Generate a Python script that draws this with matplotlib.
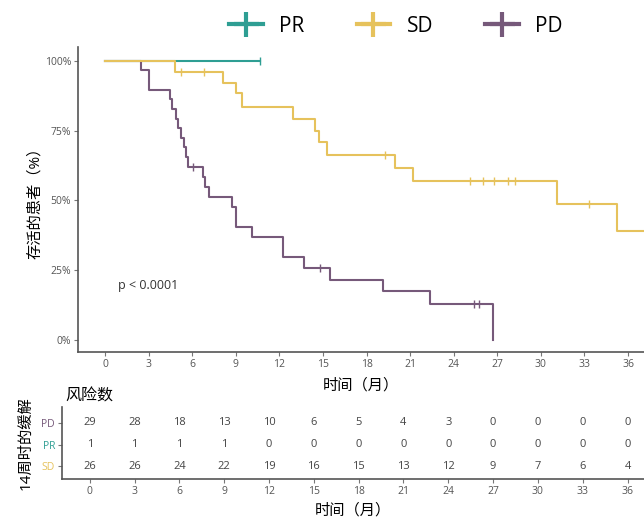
import matplotlib
matplotlib.use('Agg')
import matplotlib.pyplot as plt
from matplotlib.lines import Line2D
import numpy as np

plt.rcParams['font.family'] = ['Open Sans', 'Noto Sans CJK SC', 'DejaVu Sans']

colors = {'PR': '#2e9e93', 'SD': '#e6c25c', 'PD': '#76597a'}

# Kaplan-Meier steps: time (months), survival (%)
pr_t = [0, 10.67]
pr_s = [100, 100]
pr_cens = [10.67]

sd_t = [0, 4.82, 8.14, 9.0, 9.4, 12.96, 14.45, 14.7, 15.3, 19.96, 21.2, 31.08, 35.26, 38]
sd_s = [100, 96.2, 92.2, 88.4, 83.6, 79.3, 75.0, 70.8, 66.3, 61.5, 56.9, 48.6, 39.1, 39.1]
sd_cens = [5.2, 6.8, 19.27, 25.1, 26.0, 26.8, 27.75, 28.2, 33.3]

pd_t = [0, 2.5, 3.05, 4.47, 4.63, 4.86, 5.04, 5.23, 5.41, 5.55, 5.69, 6.75, 6.9, 7.15,
        8.72, 9.0, 10.15, 12.27, 13.72, 15.48, 19.16, 22.37, 26.73]
pd_s = [100, 96.6, 89.7, 86.2, 82.8, 79.3, 75.9, 72.4, 69.0, 65.5, 62.1, 58.5, 55.0, 51.4,
        47.8, 40.6, 36.8, 29.6, 25.7, 21.5, 17.6, 12.9, 0]
pd_cens = [6.07, 14.8, 25.42, 25.74]

# risk table
risk_times = [0, 3, 6, 9, 12, 15, 18, 21, 24, 27, 30, 33, 36]
risk_pd = [29, 28, 18, 13, 10, 6, 5, 4, 3, 0, 0, 0, 0]
risk_pr = [1, 1, 1, 1, 0, 0, 0, 0, 0, 0, 0, 0, 0]
risk_sd = [26, 26, 24, 22, 19, 16, 15, 13, 12, 9, 7, 6, 4]

W, H = 644, 519
fig = plt.figure(figsize=(W / 100, H / 100), dpi=100)
ax = fig.add_axes([78 / W, 1 - 352 / H, 1 - 78 / W, (352 - 47) / H])
axt = fig.add_axes([62 / W, 1 - 479 / H, 1 - 62 / W, (479 - 407) / H])


def surv_at(t, s, c):
    i = np.searchsorted(t, c, side='right') - 1
    return np.array(s)[i]


curves = [('PR', pr_t, pr_s, pr_cens), ('PD', pd_t, pd_s, pd_cens), ('SD', sd_t, sd_s, sd_cens)]
for name, t, s, cens in curves:
    ax.step(t, s, where='post', color=colors[name], lw=1.5, zorder=3)
    ax.plot(cens, surv_at(t, s, cens), ls='none', marker='|', ms=6, mew=1.0,
            color=colors[name], zorder=4)

ax.set_xlim(-1.86, 37.1)
ax.set_ylim(-4.3, 105)
ax.set_xticks(risk_times)
ax.set_yticks([0, 25, 50, 75, 100])
ax.set_yticklabels(['0%', '25%', '50%', '75%', '100%'])
ax.set_xlabel('时间（月）', fontsize=11, labelpad=6)
ax.set_ylabel('存活的患者（%）', fontsize=11, labelpad=1)
ax.text(0.9, 19.7, 'p < 0.0001', fontsize=9, color='#333333', va='center')

for a in (ax, axt):
    for sp in ('top', 'right'):
        a.spines[sp].set_visible(False)
    for sp in ('left', 'bottom'):
        a.spines[sp].set_color('#555555')
        a.spines[sp].set_linewidth(1.2)
    a.tick_params(length=3, width=0.8, color='#777777', labelsize=7.5, labelcolor='#555555', pad=2)

# legend
handles = [Line2D([], [], color=colors[n], lw=3, marker='+', ms=18, mew=3) for n in ['PR', 'SD', 'PD']]
fig.legend(handles, ['PR', 'SD', 'PD'], loc='center', bbox_to_anchor=(396 / W, 1 - 26 / H),
           ncol=3, frameon=False, fontsize=15, handlelength=1.6, handletextpad=0.8,
           columnspacing=2.5)

# risk table
rows = [(risk_sd, 0), (risk_pr, 1), (risk_pd, 2)]
for vals, y in rows:
    for t, v in zip(risk_times, vals):
        axt.text(t, y, str(v), ha='center', va='center', fontsize=8, color='#444444')
axt.set_xlim(-1.86, 37.1)
axt.set_ylim(-0.6, 2.74)
axt.set_xticks(risk_times)
axt.set_yticks([0, 1, 2])
axt.set_yticklabels(['SD', 'PR', 'PD'])
for lbl, n in zip(axt.get_yticklabels(), ['SD', 'PR', 'PD']):
    lbl.set_color(colors[n])
axt.set_xlabel('时间（月）', fontsize=11, labelpad=5)
axt.set_ylabel('14周时的缓解', fontsize=11, labelpad=6)
fig.text(65 / W, 1 - 397 / H, '风险数', fontsize=11.5, va='center', ha='left')

fig.savefig('out.png', dpi=100)
